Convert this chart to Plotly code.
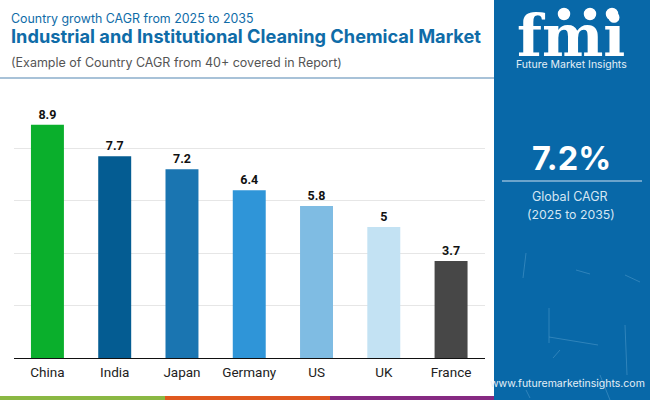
import plotly.graph_objects as go

countries = ["China", "India", "Japan", "Germany", "US", "UK", "France"]
cagr = [8.9, 7.7, 7.2, 6.4, 5.8, 5, 3.7]
bar_colors = ["#0AAF2C", "#045C92", "#1A75B1", "#2F95D8", "#7FBCE3", "#C3E2F3", "#474747"]
grid_ticks = [0, 2, 4, 6, 8, 10]

PANEL = "#0868A8"
TITLE_BLUE = "#0F6CA8"

fig = go.Figure()
fig.add_trace(go.Bar(
    x=countries,
    y=cagr,
    marker=dict(color=bar_colors, line=dict(width=0)),
    text=[str(v) for v in cagr],
    textposition="outside",
    textfont=dict(family="Roboto", size=12.5, color="#111111", weight=700),
    cliponaxis=False,
    hoverinfo="skip",
))

shapes = []
# right panel + footer stripes
shapes.append(dict(type="rect", xref="paper", yref="paper", x0=494/650, x1=1, y0=0, y1=1,
                   fillcolor=PANEL, line_width=0, layer="below"))
for x0, x1, c in [(0, 165, "#8AB843"), (165, 330, "#E0591F"), (330, 494, "#862A82")]:
    shapes.append(dict(type="rect", xref="paper", yref="paper", x0=x0/650, x1=x1/650,
                       y0=0, y1=4/400, fillcolor=c, line_width=0))
# rule under the heading
shapes.append(dict(type="line", xref="paper", yref="paper", x0=0, x1=494/650,
                   y0=1-78/400, y1=1-78/400, line=dict(color="#8BAECB", width=1.5)))
# rule in the panel
shapes.append(dict(type="line", xref="paper", yref="paper", x0=502/650, x1=642/650,
                   y0=1-181/400, y1=1-181/400, line=dict(color="#8DB8D8", width=1.5)))
# faint scratches on the panel
for x0, y0, x1, y1 in [(526, 253, 523, 278), (625, 275, 640, 282), (625, 325, 627, 375),
                       (549, 337, 598, 345), (549, 308, 549, 343), (576, 270, 590, 274),
                       (560, 350, 553, 358), (600, 375, 610, 400), (526, 390, 530, 398)]:
    shapes.append(dict(type="line", xref="paper", yref="paper", x0=x0/650, x1=x1/650,
                       y0=1-y0/400, y1=1-y1/400, line=dict(color="#5FA5D2", width=1), opacity=0.45))
# logo: stripes across the lettering, then the three small globes
for y in [28, 33, 38, 43, 48, 52]:
    shapes.append(dict(type="line", xref="paper", yref="paper", x0=514/650, x1=630/650,
                       y0=1-y/400, y1=1-y/400, line=dict(color=PANEL, width=1), layer="above"))
for cx, cy in [(564, 14), (590, 14), (612, 14)]:
    shapes.append(dict(type="circle", xref="paper", yref="paper", x0=(cx-7)/650, x1=(cx+7)/650,
                       y0=1-(cy+7)/400, y1=1-(cy-7)/400, fillcolor="#FFFFFF",
                       line=dict(color=PANEL, width=1.5)))

annotations = []
def label(text, px, py, size, color, family="Inter", weight=400, anchor="left"):
    annotations.append(dict(text=text, xref="paper", yref="paper", x=px/650, y=1-py/400,
                            xanchor=anchor, yanchor="middle", showarrow=False,
                            font=dict(family=family, size=size, color=color, weight=weight)))

label("Country growth CAGR from 2025 to 2035", 9, 18, 12.4, TITLE_BLUE)
label("Industrial and Institutional Cleaning Chemical Market", 9, 36, 18.2, TITLE_BLUE, weight=700)
label("(Example of Country CAGR from 40+ covered in Report)", 9, 63, 12.5, "#555555")

label("fmi", 571, 36, 58, "#FFFFFF", family="DejaVu Serif", weight=700, anchor="center")
label("Future Market Insights", 571, 64, 10.5, "#E4EFF7", anchor="center")
label("7.2%", 571, 158, 32.5, "#FFFFFF", weight=700, anchor="center")
label("Global CAGR", 570, 197, 12.5, "#D5E6F3", anchor="center")
label("(2025 to 2035)", 571, 214, 12.3, "#D5E6F3", anchor="center")
label("www.futuremarketinsights.com", 647, 383, 10.5, "#E4EFF7", anchor="right")

fig.update_layout(
    width=650,
    height=400,
    margin=dict(l=0, r=0, t=0, b=0),
    paper_bgcolor="#FFFFFF",
    plot_bgcolor="rgba(0,0,0,0)",
    showlegend=False,
    bargap=0.51,
    shapes=shapes,
    annotations=annotations,
    xaxis=dict(
        domain=[13.8/650, 484.7/650],
        type="category",
        tickfont=dict(family="Roboto", size=13.5, color="#222222"),
        ticks="",
        ticklabelstandoff=2,
        showline=True,
        linecolor="#111111",
        linewidth=1,
        showgrid=False,
    ),
    yaxis=dict(
        domain=[1-358/400, 1-96/400],
        range=[0, 10],
        tickvals=grid_ticks,
        showticklabels=False,
        showgrid=True,
        gridcolor="#E6E6E6",
        gridwidth=1,
        zeroline=False,
    ),
)

# browser default body margin would push the figure off the window
fig.write_html("out.html", config=dict(displayModeBar=False),
               post_script="document.body.style.margin='0';")
